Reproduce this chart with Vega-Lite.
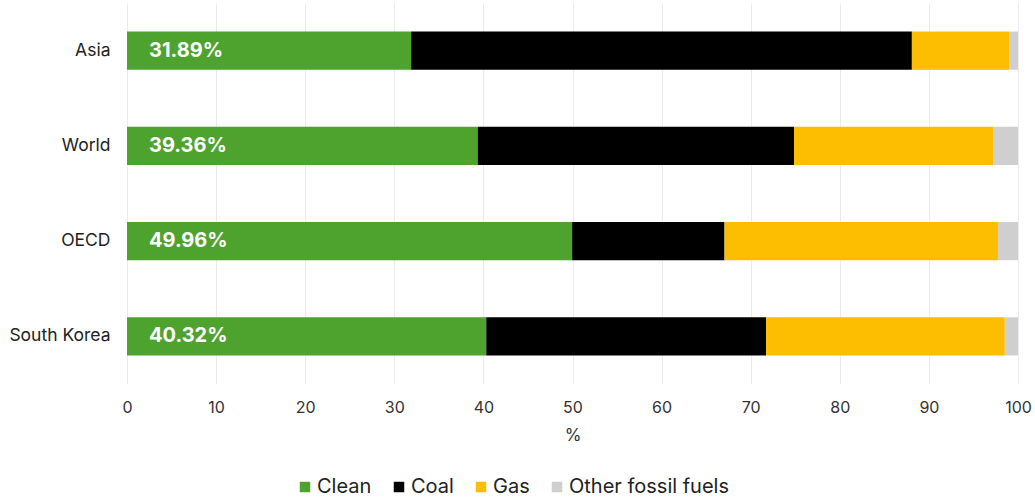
{
  "$schema": "https://vega.github.io/schema/vega-lite/v6.json",
  "autosize": "none",
  "width": 891,
  "height": 381,
  "padding": {"left": 127, "top": 3, "right": 17, "bottom": 117},
  "background": "white",
  "config": {
    "font": "Inter",
    "view": {"stroke": null},
    "axis": {"labelFont": "Inter", "titleFont": "Inter", "labelColor": "#333333", "titleColor": "#333333"}
  },
  "data": {
    "values": [
      {"region": "Asia", "source": "Clean", "value": 31.89, "k": 1, "label": "31.89%"},
      {"region": "Asia", "source": "Coal", "value": 56.2, "k": 2},
      {"region": "Asia", "source": "Gas", "value": 10.9, "k": 3},
      {"region": "Asia", "source": "Other fossil fuels", "value": 1.01, "k": 4},
      {"region": "World", "source": "Clean", "value": 39.36, "k": 1, "label": "39.36%"},
      {"region": "World", "source": "Coal", "value": 35.5, "k": 2},
      {"region": "World", "source": "Gas", "value": 22.4, "k": 3},
      {"region": "World", "source": "Other fossil fuels", "value": 2.74, "k": 4},
      {"region": "OECD", "source": "Clean", "value": 49.96, "k": 1, "label": "49.96%"},
      {"region": "OECD", "source": "Coal", "value": 17.1, "k": 2},
      {"region": "OECD", "source": "Gas", "value": 30.7, "k": 3},
      {"region": "OECD", "source": "Other fossil fuels", "value": 2.24, "k": 4},
      {"region": "South Korea", "source": "Clean", "value": 40.32, "k": 1, "label": "40.32%"},
      {"region": "South Korea", "source": "Coal", "value": 31.4, "k": 2},
      {"region": "South Korea", "source": "Gas", "value": 26.8, "k": 3},
      {"region": "South Korea", "source": "Other fossil fuels", "value": 1.48, "k": 4}
    ]
  },
  "encoding": {
    "y": {
      "field": "region",
      "type": "nominal",
      "sort": ["Asia", "World", "OECD", "South Korea"],
      "scale": {"paddingInner": 0.6, "paddingOuter": 0.3},
      "axis": {"title": null, "domain": false, "ticks": false, "labelFontSize": 17.5, "labelPadding": 17, "labelColor": "#222222"}
    }
  },
  "layer": [
    {
      "mark": {"type": "bar"},
      "encoding": {
        "x": {
          "field": "value",
          "type": "quantitative",
          "stack": "zero",
          "scale": {"domain": [0, 100], "nice": false},
          "axis": {
            "title": "%",
            "titleFontSize": 17,
            "titleFontWeight": "normal",
            "titlePadding": 12,
            "values": [0, 10, 20, 30, 40, 50, 60, 70, 80, 90, 100],
            "labelFontSize": 16,
            "labelPadding": 15,
            "labelFlush": false,
            "domain": false,
            "ticks": false,
            "grid": true,
            "gridColor": "#ebebeb",
            "gridWidth": 1
          }
        },
        "color": {
          "field": "source",
          "type": "nominal",
          "scale": {
            "domain": ["Clean", "Coal", "Gas", "Other fossil fuels"],
            "range": ["#4ea32f", "#000000", "#fdbd00", "#cfcfcf"]
          },
          "legend": {
            "title": null,
            "orient": "none",
            "direction": "horizontal",
            "legendX": 168,
            "legendY": 474,
            "symbolType": "square",
            "symbolSize": 110,
            "symbolStrokeWidth": 0,
            "labelFontSize": 20,
            "labelLimit": 400,
            "labelColor": "#222222",
            "labelOffset": 2,
            "columnPadding": 17
          }
        },
        "order": {"field": "k", "type": "quantitative"}
      }
    },
    {
      "transform": [{"filter": "datum.source === 'Clean'"}],
      "mark": {"type": "text", "align": "left", "baseline": "middle", "dx": 22, "fontSize": 20, "fontWeight": "bold", "color": "white"},
      "encoding": {
        "x": {"datum": 0, "type": "quantitative"},
        "text": {"field": "label"}
      }
    }
  ]
}
